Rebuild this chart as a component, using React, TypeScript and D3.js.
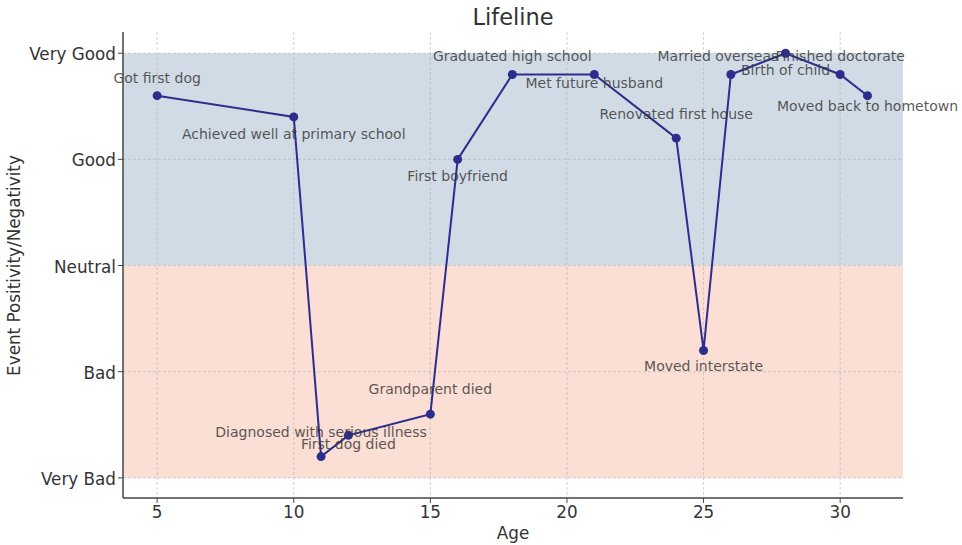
import React from "react";
import * as d3 from "d3";

const ages = [5, 10, 11, 12, 15, 16, 18, 21, 24, 25, 26, 28, 30, 31];
const scores = [1.6, 1.4, -1.8, -1.6, -1.4, 1.0, 1.8, 1.8, 1.2, -0.8, 1.8, 2.0, 1.8, 1.6];
const events = [
  "Got first dog",
  "Achieved well at primary school",
  "Diagnosed with serious illness",
  "First dog died",
  "Grandparent died",
  "First boyfriend",
  "Graduated high school",
  "Met future husband",
  "Renovated first house",
  "Moved interstate",
  "Married overseas",
  "Birth of child",
  "Finished doctorate",
  "Moved back to hometown",
];
const yTickValues = [-2, -1, 0, 1, 2];
const yTickLabels = ["Very Bad", "Bad", "Neutral", "Good", "Very Good"];
const xTickValues = [5, 10, 15, 20, 25, 30];

// label placement (pixels relative to the point)
const labelDy = [-17, 18, -24, 10, -24, 18, -17, 10, -23, 17, -17, 18, -17, 11];
const labelDx = [0, 0, 0, 0, 0, 0, 0, 0, 0, 0, -13, 0, 0, 0];

const W = 962;
const H = 545;
const left = 123;
const right = 903;
const top = 32;
const bottom = 498;
const FONT = "DejaVu Sans, sans-serif";

export default function App() {
  const x = d3.scaleLinear().domain([3.75, 32.3]).range([left, right]);
  const y = d3.scaleLinear().domain([-2.19, 2.2]).range([bottom, top]);
  const line = d3
    .line<number>()
    .x((_, i) => x(ages[i]))
    .y((d) => y(d));
  const lineColor = "#2b2e8c";
  return (
    <svg width={W} height={H} style={{ position: "absolute", left: 0, top: 0 }} fontFamily={FONT}>
      <rect x={0} y={0} width={W} height={H} fill="#fff" />
      {/* bands */}
      <rect x={left} y={y(2)} width={right - left} height={y(0) - y(2)} fill="#d0dbe5" />
      <rect x={left} y={y(0)} width={right - left} height={y(-2) - y(0)} fill="#fbded4" />
      {/* grid */}
      {xTickValues.map((v) => (
        <line key={"gx" + v} x1={x(v)} x2={x(v)} y1={top} y2={bottom} stroke="#b8b8b8" strokeWidth={0.8} strokeDasharray="3,2" opacity={0.8} />
      ))}
      {yTickValues.map((v) => (
        <line key={"gy" + v} x1={left} x2={right} y1={y(v)} y2={y(v)} stroke="#b8b8b8" strokeWidth={0.8} strokeDasharray="3,2" opacity={0.8} />
      ))}
      {/* line */}
      <path d={line(scores) || ""} fill="none" stroke={lineColor} strokeWidth={2} />
      {scores.map((s, i) => (
        <circle key={"p" + i} cx={x(ages[i])} cy={y(s)} r={4.5} fill={lineColor} />
      ))}
      {/* labels */}
      {scores.map((s, i) => (
        <text
          key={"l" + i}
          x={x(ages[i]) + labelDx[i]}
          y={y(s) + labelDy[i]}
          textAnchor="middle"
          dominantBaseline="middle"
          fontSize={14}
          fill="#3a3a3a"
          fillOpacity={0.85}
        >
          {events[i]}
        </text>
      ))}
      {/* axes */}
      <line x1={left} x2={left} y1={top} y2={bottom} stroke="#444" strokeWidth={1.5} />
      <line x1={left} x2={right} y1={bottom} y2={bottom} stroke="#444" strokeWidth={1.5} />
      {yTickValues.map((v, i) => (
        <g key={"yt" + v}>
          <line x1={left - 5} x2={left} y1={y(v)} y2={y(v)} stroke="#444" strokeWidth={1} />
          <text x={left - 7} y={y(v) + 2} textAnchor="end" dominantBaseline="middle" fontSize={16.8} fill="#333">
            {yTickLabels[i]}
          </text>
        </g>
      ))}
      {xTickValues.map((v) => (
        <g key={"xt" + v}>
          <line x1={x(v)} x2={x(v)} y1={bottom} y2={bottom + 5} stroke="#444" strokeWidth={1} />
          <text x={x(v)} y={bottom + 15} textAnchor="middle" dominantBaseline="middle" fontSize={16.8} fill="#333">
            {v}
          </text>
        </g>
      ))}
      <text x={(left + right) / 2} y={18} textAnchor="middle" dominantBaseline="middle" fontSize={22.5} fill="#333">
        Lifeline
      </text>
      <text x={(left + right) / 2} y={534} textAnchor="middle" dominantBaseline="middle" fontSize={16.8} fill="#333">
        Age
      </text>
      <text
        transform={`translate(15, ${y(0)}) rotate(-90)`}
        textAnchor="middle"
        dominantBaseline="middle"
        fontSize={16.8}
        fill="#333"
      >
        Event Positivity/Negativity
      </text>
    </svg>
  );
}
